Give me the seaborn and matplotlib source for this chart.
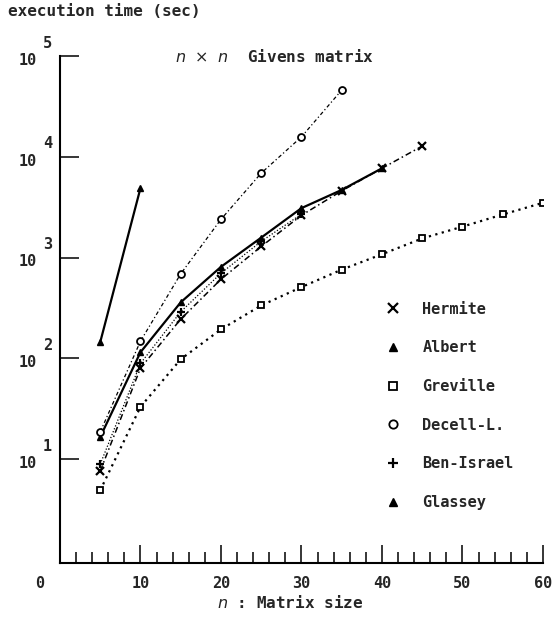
import numpy as np
import pandas as pd
import matplotlib.pyplot as plt
import seaborn as sns
from matplotlib.lines import Line2D
from matplotlib.ticker import MultipleLocator, FixedLocator, NullLocator


# matrix sizes n and execution times (sec)
sizes = [5, 10, 15, 20, 25, 30, 35, 40, 45, 50, 55, 60]
hermite = [7.6, 80, 245, 610, 1290, 2630, 4600, 7700, 12800]
albert = [16.6, 115, 360, 810, 1580, 3100, 4700, 7700]
greville = [4.9, 33, 98, 194, 335, 510, 760, 1080, 1550, 2030, 2680, 3500]
decell = [18.6, 148, 690, 2400, 6900, 15800, 46000]
ben_israel = [8.9, 89, 290, 700, 1450, 2700]
glassey = [145, 4900]

names = ["Hermite", "Albert", "Greville", "Decell-L.", "Ben-Israel", "Glassey"]
series = [hermite, albert, greville, decell, ben_israel, glassey]
decades = [1e1, 1e2, 1e3, 1e4, 1e5]
exponents = ["1", "2", "3", "4", "5"]
x_ticks = [10, 20, 30, 40, 50, 60]

# line style / marker for each method
styles = {
    "Hermite": dict(marker="x", linestyle=(0, (4, 2, 1, 2)), lw=1.1, ms=6, mew=1.6),
    "Albert": dict(marker="^", linestyle="-", lw=1.6, ms=5, mew=1),
    "Greville": dict(marker="s", linestyle=(0, (1, 2)), lw=1.6, ms=5, mew=1.3, mfc="white"),
    "Decell-L.": dict(marker="o", linestyle=(0, (3, 2, 1, 2)), lw=0.9, ms=5, mew=1.3, mfc="white"),
    "Ben-Israel": dict(marker="+", linestyle=(0, (1, 1.5)), lw=0.9, ms=6, mew=1.6),
    "Glassey": dict(marker="^", linestyle="-", lw=1.6, ms=5, mew=1),
}

sns.set_theme(style="white")
plt.rcParams["font.family"] = ["DejaVu Sans Mono", "DejaVu Sans"]
plt.rcParams["mathtext.fontset"] = "dejavusans"

fig, ax = plt.subplots(figsize=(5.58, 6.17), dpi=100)
fig.subplots_adjust(left=0.1075, right=0.973, bottom=0.0875, top=0.909)

for name, values in zip(names, series):
    df = pd.DataFrame({"n": sizes[:len(values)], "time": values})
    st = styles[name]
    sns.lineplot(data=df, x="n", y="time", ax=ax, color="black",
                 marker=st["marker"], linestyle=st["linestyle"], linewidth=st["lw"],
                 markersize=st["ms"], markeredgewidth=st["mew"],
                 markerfacecolor=st.get("mfc", "black"), markeredgecolor="black")

ax.set_yscale("log")
ax.set_ylim(0.93, 1e5)
ax.set_xlim(0, 60)
ax.set_xlabel("")
ax.set_ylabel("")

for side in ["top", "right"]:
    ax.spines[side].set_visible(False)
for side in ["left", "bottom"]:
    ax.spines[side].set_color("black")
    ax.spines[side].set_linewidth(1.5)

# y axis: inward ticks at decades only
ax.yaxis.set_major_locator(FixedLocator(decades))
ax.yaxis.set_minor_locator(NullLocator())
ax.set_yticklabels([])
ax.tick_params(axis="y", which="major", direction="in", length=14, width=1.3, left=True)
for d, e in zip(decades, exponents):
    ax.annotate("10", xy=(-0.066, d), xycoords=ax.get_yaxis_transform(),
                xytext=(0, -3), textcoords="offset points", ha="center",
                va="center", fontsize=11, fontweight="bold")
    ax.annotate(e, xy=(-0.026, d), xycoords=ax.get_yaxis_transform(),
                xytext=(0, 4), textcoords="offset points", ha="center",
                va="bottom", fontsize=11, fontweight="bold")

# x axis: inward ticks, minor every 2
ax.xaxis.set_major_locator(FixedLocator(x_ticks))
ax.xaxis.set_minor_locator(MultipleLocator(2))
ax.set_xticklabels([str(t) for t in x_ticks])
ax.tick_params(axis="x", which="major", direction="in", length=13, width=1.3,
               bottom=True, labelsize=11, pad=9)
ax.tick_params(axis="x", which="minor", direction="in", length=8, width=1.3, bottom=True)
for lab in ax.get_xticklabels():
    lab.set_fontweight("bold")
fig.text(40 / 558, 1 - 583 / 617, "0", ha="center", va="center", fontsize=11, fontweight="bold")

fig.text(8 / 558, 1 - 12 / 617, "execution time (sec)", ha="left", va="center",
         fontsize=11.5, fontweight="bold")
fig.text(175 / 558, 1 - 56 / 617, r"$n$ $\times$ $n$  Givens matrix", ha="left",
         va="center", fontsize=11.5, fontweight="bold")
fig.text(290 / 558, 1 - 602 / 617, r"$\mathbf{\mathit{n}}$ : Matrix size", ha="center",
         va="center", fontsize=11.5, fontweight="bold")

handles = []
for name in names:
    st = styles[name]
    handles.append(Line2D([], [], color="black", linestyle="none", marker=st["marker"],
                          markersize=st["ms"] + 1, markeredgewidth=st["mew"],
                          markerfacecolor=st.get("mfc", "black")))
leg = ax.legend(handles, names, loc="upper left", bbox_to_anchor=(378 / 558, 1 - 294 / 617),
                bbox_transform=fig.transFigure, frameon=False, handlelength=1,
                handletextpad=1.4, labelspacing=1.55, borderpad=0,
                prop={"family": "DejaVu Sans Mono", "weight": "bold", "size": 11})

fig.savefig("out.png", dpi=100)
